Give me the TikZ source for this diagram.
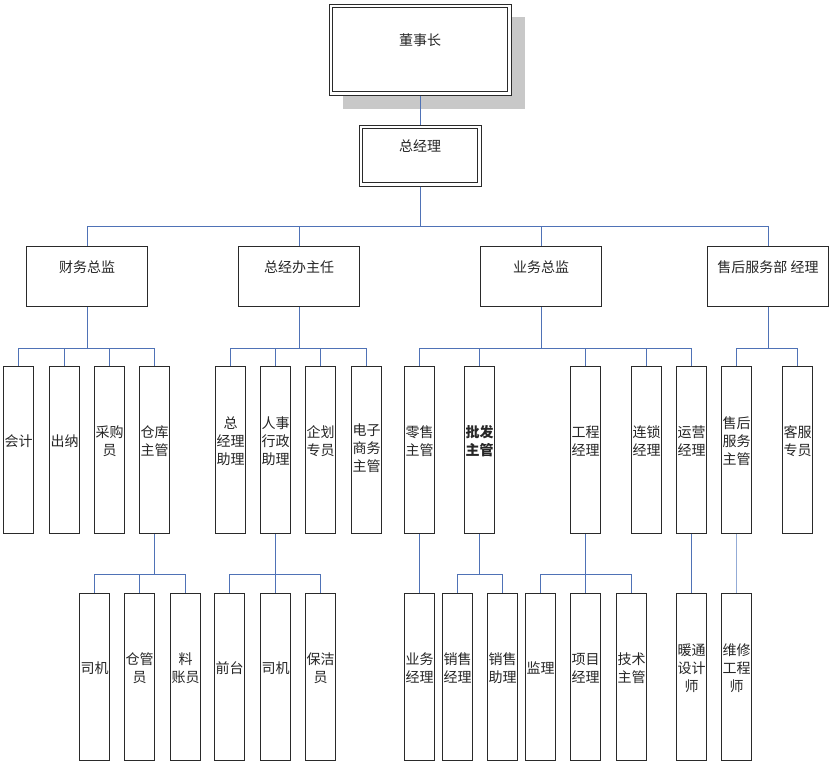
\documentclass[tikz,border=0pt]{standalone}
\usepackage{fontspec}
\newfontfamily\cjk{Noto Sans CJK SC}
\definecolor{linkblue}{HTML}{4F72B6}
\definecolor{lightlink}{HTML}{93ABD6}
\definecolor{boxline}{HTML}{2A2A2A}
\definecolor{shadowgray}{HTML}{C8C8C8}
\newcommand\orgbox[6]{%
  \node[box, minimum width=#4pt, minimum height=#5pt] (#1) at (#2,#3) {};
  \node[lbl] (#1-t) at ([yshift=9pt]#1.center) {#6};}
\begin{document}
\begin{tikzpicture}[x=1pt,y=-1pt,
  box/.style={draw=boxline, line width=1.1pt, fill=white, inner sep=0pt, anchor=north west},
  obox/.style={draw=boxline, line width=1pt, fill=white, inner sep=0pt, anchor=north west},
  ibox/.style={draw=boxline, line width=1pt, inner sep=0pt, anchor=north west},
  lbl/.style={font=\cjk\fontsize{14}{18}\selectfont, align=center, inner sep=0pt, text=black!85},
  conn/.style={draw=linkblue, line width=1pt},
  lconn/.style={draw=lightlink, line width=1.2pt}]
\useasboundingbox[fill=white] (0,0) rectangle (832,764);

% top
\node[fill=shadowgray, anchor=north west, minimum width=182pt, minimum height=92pt, inner sep=0pt] (ch-shadow) at (343,17) {};
\node[obox, minimum width=182pt, minimum height=91pt] (ch) at (328.5,3.5) {};
\node[ibox, minimum width=175pt, minimum height=84pt] (ch-in) at (332,7) {};
\node[lbl] (ch-t) at ([yshift=9pt]ch.center) {董事长};
\node[obox, minimum width=122pt, minimum height=61pt] (gm) at (358.5,124.5) {};
\node[ibox, minimum width=115pt, minimum height=54pt] (gm-in) at (362,128) {};
\node[lbl] (gm-t) at ([yshift=9pt]gm.center) {总经理};

% level 2
\orgbox{fd}{26}{246}{121}{60}{财务总监}
\orgbox{ob}{238}{246}{121}{60}{总经办主任}
\orgbox{bd}{480}{246}{121}{60}{业务总监}
\orgbox{asd}{707}{246}{121}{60}{售后服务部 经理}

% level 3
\orgbox{kj}{3}{366}{30}{167}{会计}
\orgbox{cn}{49}{366}{30}{167}{出纳}
\orgbox{cg}{94}{366}{30}{167}{采购\\员}
\orgbox{ck}{139}{366}{30}{167}{仓库\\主管}
\orgbox{zl}{215}{366}{30}{167}{总\\经理\\助理}
\orgbox{rs}{260}{366}{30}{167}{人事\\行政\\助理}
\orgbox{qh}{305}{366}{30}{167}{企划\\专员}
\node[box, minimum width=30pt, minimum height=167pt] (dz) at (351,366) {};
\node[lbl] (dz-t) at ([yshift=2pt]dz.center) {电子\\商务\\主管};
\orgbox{lsg}{404}{366}{30}{167}{零售\\主管}
\orgbox{pf}{464}{366}{30}{167}{\bfseries 批发\\\bfseries 主管}
\orgbox{gc}{570}{366}{30}{167}{工程\\经理}
\orgbox{ls}{631}{366}{30}{167}{连锁\\经理}
\orgbox{yy}{676}{366}{30}{167}{运营\\经理}
\orgbox{sh}{721}{366}{30}{167}{售后\\服务\\主管}
\orgbox{kf}{782}{366}{30}{167}{客服\\专员}

% level 4
\orgbox{sja}{79}{593}{30}{167}{司机}
\orgbox{cgy}{124}{593}{30}{167}{仓管\\员}
\orgbox{lz}{170}{593}{30}{167}{料\\账员}
\orgbox{qt}{214}{593}{30}{167}{前台}
\orgbox{sjb}{260}{593}{30}{167}{司机}
\orgbox{bj}{305}{593}{30}{167}{保洁\\员}
\orgbox{ywjl}{404}{593}{30}{167}{业务\\经理}
\orgbox{xsjl}{442}{593}{30}{167}{销售\\经理}
\orgbox{xszl}{487}{593}{30}{167}{销售\\助理}
\orgbox{jl}{525}{593}{30}{167}{监理}
\orgbox{xmjl}{570}{593}{30}{167}{项目\\经理}
\orgbox{jszg}{616}{593}{30}{167}{技术\\主管}
\orgbox{nt}{676}{593}{30}{167}{暖通\\设计\\师}
\orgbox{wx}{721}{593}{30}{167}{维修\\工程\\师}

% bus levels
\coordinate (busA) at (0,226);
\coordinate (busB) at (0,348);
\coordinate (busC) at (0,574);

% connectors
\draw[conn] (ch.south) -- (gm.north);
\foreach \c in {fd,ob,bd,asd}
  \draw[conn] (gm.south) -- (gm.south |- busA) -| (\c.north);
\foreach \c in {kj,cn,cg,ck}
  \draw[conn] (fd.south) -- (fd.south |- busB) -| (\c.north);
\foreach \c in {zl,rs,qh,dz}
  \draw[conn] (ob.south) -- (ob.south |- busB) -| (\c.north);
\foreach \c in {lsg,pf,gc,ls,yy}
  \draw[conn] (bd.south) -- (bd.south |- busB) -| (\c.north);
\foreach \c in {sh,kf}
  \draw[conn] (asd.south) -- (asd.south |- busB) -| (\c.north);
\foreach \c in {sja,cgy,lz}
  \draw[conn] (ck.south) -- (ck.south |- busC) -| (\c.north);
\foreach \c in {qt,sjb,bj}
  \draw[conn] (rs.south) -- (rs.south |- busC) -| (\c.north);
\draw[conn] (lsg.south) -- (ywjl.north);
\foreach \c in {xsjl,xszl}
  \draw[conn] (pf.south) -- (pf.south |- busC) -| (\c.north);
\foreach \c in {jl,xmjl,jszg}
  \draw[conn] (gc.south) -- (gc.south |- busC) -| (\c.north);
\draw[conn] (yy.south) -- (nt.north);
\draw[lconn] (sh.south) -- (wx.north);
\end{tikzpicture}
\end{document}
